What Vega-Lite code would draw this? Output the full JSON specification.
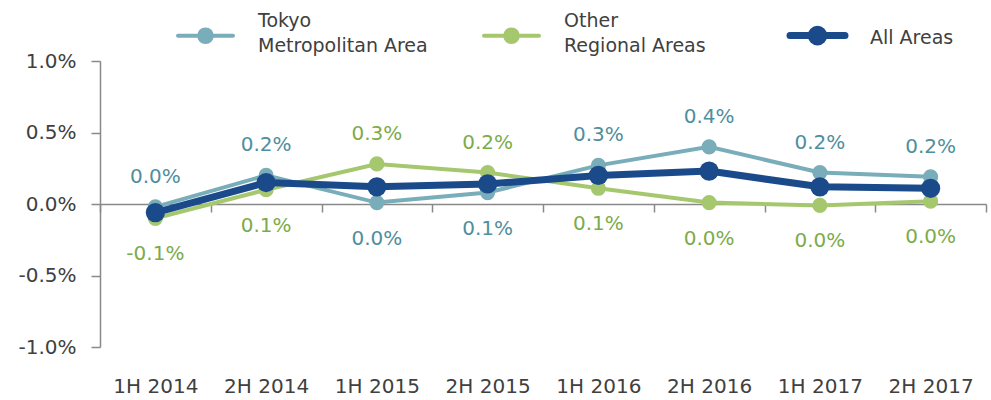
{
  "$schema": "https://vega.github.io/schema/vega-lite/v6.json",
  "width": 886,
  "height": 286,
  "autosize": {"type": "none"},
  "padding": {"left": 100, "top": 61, "right": 5, "bottom": 53},
  "background": "white",
  "config": {"view": {"stroke": null}, "font": "DejaVu Sans"},
  "data": {
    "values": [
      {"period": "1H 2014", "series": "Tokyo Metropolitan Area", "value": -0.02},
      {"period": "2H 2014", "series": "Tokyo Metropolitan Area", "value": 0.20},
      {"period": "1H 2015", "series": "Tokyo Metropolitan Area", "value": 0.01},
      {"period": "2H 2015", "series": "Tokyo Metropolitan Area", "value": 0.08},
      {"period": "1H 2016", "series": "Tokyo Metropolitan Area", "value": 0.27},
      {"period": "2H 2016", "series": "Tokyo Metropolitan Area", "value": 0.40},
      {"period": "1H 2017", "series": "Tokyo Metropolitan Area", "value": 0.22},
      {"period": "2H 2017", "series": "Tokyo Metropolitan Area", "value": 0.19},
      {"period": "1H 2014", "series": "Other Regional Areas", "value": -0.10},
      {"period": "2H 2014", "series": "Other Regional Areas", "value": 0.10},
      {"period": "1H 2015", "series": "Other Regional Areas", "value": 0.28},
      {"period": "2H 2015", "series": "Other Regional Areas", "value": 0.22},
      {"period": "1H 2016", "series": "Other Regional Areas", "value": 0.11},
      {"period": "2H 2016", "series": "Other Regional Areas", "value": 0.01},
      {"period": "1H 2017", "series": "Other Regional Areas", "value": -0.01},
      {"period": "2H 2017", "series": "Other Regional Areas", "value": 0.02},
      {"period": "1H 2014", "series": "All Areas", "value": -0.06},
      {"period": "2H 2014", "series": "All Areas", "value": 0.15},
      {"period": "1H 2015", "series": "All Areas", "value": 0.12},
      {"period": "2H 2015", "series": "All Areas", "value": 0.14},
      {"period": "1H 2016", "series": "All Areas", "value": 0.20},
      {"period": "2H 2016", "series": "All Areas", "value": 0.23},
      {"period": "1H 2017", "series": "All Areas", "value": 0.12},
      {"period": "2H 2017", "series": "All Areas", "value": 0.11}
    ]
  },
  "encoding": {
    "x": {
      "field": "period",
      "type": "ordinal",
      "sort": ["1H 2014", "2H 2014", "1H 2015", "2H 2015", "1H 2016", "2H 2016", "1H 2017", "2H 2017"],
      "scale": {"type": "band", "paddingInner": 0, "paddingOuter": 0},
      "axis": {
        "title": null,
        "orient": "bottom",
        "offset": -143,
        "tickBand": "extent",
        "domainColor": "#898989",
        "domainWidth": 1.5,
        "tickColor": "#898989",
        "tickWidth": 1.5,
        "tickSize": 8,
        "labelPadding": 164,
        "labelFontSize": 20,
        "labelColor": "#404040",
        "labelAngle": 0,
        "labelBaseline": "top"
      }
    },
    "y": {
      "field": "value",
      "type": "quantitative",
      "scale": {"domain": [-1, 1]},
      "axis": {
        "title": null,
        "values": [-1, -0.5, 0, 0.5, 1],
        "labelExpr": "replace(format(datum.value, '.1f'), '\u2212', '-') + '%'",
        "grid": false,
        "domainColor": "#898989",
        "domainWidth": 1.5,
        "tickColor": "#898989",
        "tickWidth": 1.5,
        "tickSize": 9,
        "labelPadding": 15,
        "labelFontSize": 20,
        "labelColor": "#404040"
      }
    }
  },
  "layer": [
    {
      "mark": {"type": "line"},
      "encoding": {
        "color": {
          "field": "series",
          "type": "nominal",
          "scale": {"domain": ["Tokyo Metropolitan Area", "Other Regional Areas", "All Areas"], "range": ["#78adb9", "#a5c86f", "#1b4a8b"]},
          "legend": {
            "title": null,
            "orient": "none",
            "legendX": 96,
            "legendY": -35,
            "direction": "horizontal",
            "columns": 3,
            "gridAlign": "all",
            "columnPadding": 42,
            "symbolType": "M-1,0L1,0M-0.23,0A0.23,0.23,0,1,1,0.23,0A0.23,0.23,0,1,1,-0.23,0Z",
            "symbolSize": 3025,
            "labelFontSize": 19,
            "labelColor": "#404040",
            "labelOffset": 43,
            "labelLimit": 300,
            "labelExpr": "datum.label === 'Tokyo Metropolitan Area' ? ['Tokyo', 'Metropolitan Area'] : datum.label === 'Other Regional Areas' ? ['Other', 'Regional Areas'] : datum.label",
            "encode": {
              "symbols": {
                "update": {
                  "size": {"value": 3025},
                  "fill": {"scale": "color", "field": "value"},
                  "stroke": {"scale": "color", "field": "value"},
                  "strokeWidth": {"signal": "datum.value === 'All Areas' ? 7 : 4"},
                  "strokeCap": {"value": "round"},
                  "opacity": {"value": 1}
                }
              },
              "labels": {
                "update": {
                  "lineHeight": {"value": 25},
                  "dy": {"signal": "datum.value === 'All Areas' ? 2 : -15"}
                }
              }
            }
          }
        },
        "strokeWidth": {"condition": {"test": "datum.series === 'All Areas'", "value": 7}, "value": 4}
      }
    },
    {
      "mark": {"type": "point", "filled": true, "opacity": 1},
      "encoding": {
        "color": {"field": "series", "type": "nominal"},
        "size": {"condition": {"test": "datum.series === 'All Areas'", "value": 370}, "value": 230}
      }
    },
    {
      "transform": [
        {"filter": "datum.series !== 'All Areas'"},
        {"joinaggregate": [{"op": "max", "field": "value", "as": "maxv"}], "groupby": ["period"]},
        {"filter": "datum.value === datum.maxv"},
        {"calculate": "replace(format(datum.value, '.1f'), '\u2212', '-') + '%'", "as": "label"}
      ],
      "mark": {"type": "text", "dy": -30, "fontSize": 20, "baseline": "middle", "align": "center"},
      "encoding": {
        "text": {"field": "label"},
        "color": {"condition": {"test": "datum.series === 'Tokyo Metropolitan Area'", "value": "#4f8e9d"}, "value": "#7cab4a"}
      }
    },
    {
      "transform": [
        {"filter": "datum.series !== 'All Areas'"},
        {"joinaggregate": [{"op": "max", "field": "value", "as": "maxv"}], "groupby": ["period"]},
        {"filter": "datum.value !== datum.maxv"},
        {"calculate": "replace(format(datum.value, '.1f'), '\u2212', '-') + '%'", "as": "label"}
      ],
      "mark": {"type": "text", "dy": 36, "fontSize": 20, "baseline": "middle", "align": "center"},
      "encoding": {
        "text": {"field": "label"},
        "color": {"condition": {"test": "datum.series === 'Tokyo Metropolitan Area'", "value": "#4f8e9d"}, "value": "#7cab4a"}
      }
    }
  ]
}
